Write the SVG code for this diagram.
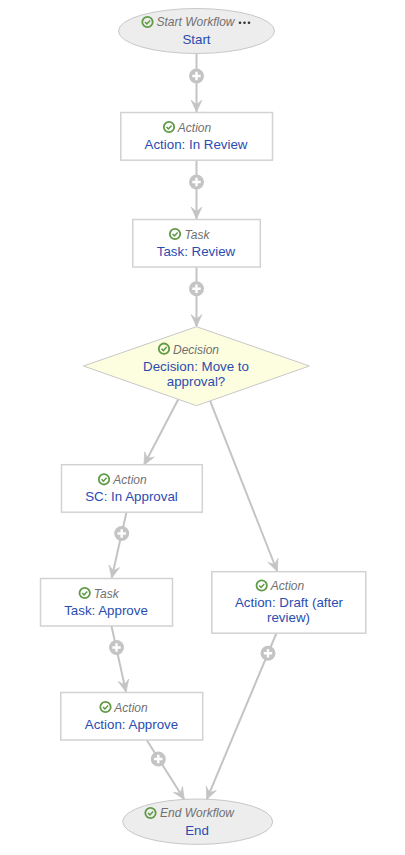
<svg xmlns="http://www.w3.org/2000/svg" xmlns:xlink="http://www.w3.org/1999/xlink" width="405" height="855" viewBox="0 0 405 855">
<style>
text{font-family:"Liberation Sans",Arial,sans-serif;text-anchor:middle}
.t{font-size:12px;font-style:italic;fill:#707070}
.l{font-size:13.33px;fill:#2a4cb0}
.box{fill:#fff;stroke:#d2d2d2;stroke-width:1.5}
.ell{fill:#ededed;stroke:#c8c8c8;stroke-width:1}
.dia{fill:#fdfde0;stroke:#c8c8c8;stroke-width:1}
.c{fill:none;stroke:#c4c4c4;stroke-width:2}
</style>
<defs>
<marker id="a" markerUnits="userSpaceOnUse" markerWidth="14" markerHeight="14" refX="13" refY="7" orient="auto" viewBox="0 0 14 14"><path d="M1 1.500L13 7L1 12.500L5.500 7Z" fill="#c4c4c4" stroke="#c4c4c4" stroke-width=".6"/></marker>
<g id="chk"><circle r="5.200" fill="none" stroke="#5f9a45" stroke-width="1.800"/><path d="M-2.500 0L-.6 1.900L2.600 -1.600" fill="none" stroke="#5f9a45" stroke-width="1.500"/></g>
<g id="plus"><circle r="7.500" fill="#c4c4c4"/><path d="M-4.200 0H4.200M0 -4.200V4.200" stroke="#fff" stroke-width="2.400"/></g>
</defs>
<g id="connectors">
<path class="c" marker-end="url(#a)" d="M196.500 53V112"/>
<path class="c" marker-end="url(#a)" d="M196.500 160V219"/>
<path class="c" marker-end="url(#a)" d="M196.500 267V326.500"/>
<path class="c" marker-end="url(#a)" d="M178.300 399.300L144 465"/>
<path class="c" marker-end="url(#a)" d="M210 400.700L277.300 571.500"/>
<path class="c" marker-end="url(#a)" d="M126.500 512L111.700 578"/>
<path class="c" marker-end="url(#a)" d="M111.500 626L126 692"/>
<path class="c" marker-end="url(#a)" d="M146.700 740L184.300 799.500"/>
<path class="c" marker-end="url(#a)" d="M276.500 633L206.700 799.500"/>
<use xlink:href="#plus" href="#plus" x="196.500" y="76"/>
<use xlink:href="#plus" href="#plus" x="196.500" y="182"/>
<use xlink:href="#plus" href="#plus" x="196.500" y="288.700"/>
<use xlink:href="#plus" href="#plus" x="121.700" y="533.500"/>
<use xlink:href="#plus" href="#plus" x="116.500" y="647.500"/>
<use xlink:href="#plus" href="#plus" x="158.300" y="759"/>
<use xlink:href="#plus" href="#plus" x="268" y="653.300"/>
</g>
<g id="start"><ellipse class="ell" cx="196.500" cy="31" rx="78" ry="22.500"/><use xlink:href="#chk" href="#chk" x="147.500" y="22"/><text class="t" x="195.500" y="26">Start Workflow</text><text class="l" x="196.500" y="44">Start</text><circle cx="240" cy="22.700" r="1.300" fill="#333"/><circle cx="244.500" cy="22.700" r="1.300" fill="#333"/><circle cx="249" cy="22.700" r="1.300" fill="#333"/></g>
<g id="action-review"><rect class="box" x="120.800" y="112.500" width="151.700" height="47.700"/><use xlink:href="#chk" href="#chk" x="169" y="127"/><text class="t" x="194.500" y="132">Action</text><text class="l" x="196" y="149">Action: In Review</text></g>
<g id="task-review"><rect class="box" x="132.800" y="219.500" width="127.500" height="47.500"/><use xlink:href="#chk" href="#chk" x="175" y="234"/><text class="t" x="197" y="239">Task</text><text class="l" x="196" y="256">Task: Review</text></g>
<g id="decision"><polygon class="dia" points="196.500,326.700 309.300,366 196.500,405.700 83.500,366"/><use xlink:href="#chk" href="#chk" x="164" y="348.700"/><text class="t" x="196" y="354">Decision</text><text class="l" x="196" y="371">Decision: Move to</text><text class="l" x="196" y="386">approval?</text></g>
<g id="sc-approval"><rect class="box" x="61.500" y="464.700" width="140.800" height="47.500"/><use xlink:href="#chk" href="#chk" x="104" y="479.300"/><text class="t" x="130" y="484">Action</text><text class="l" x="131.500" y="501">SC: In Approval</text></g>
<g id="task-approve"><rect class="box" x="40.500" y="578.500" width="132" height="47.500"/><use xlink:href="#chk" href="#chk" x="84.700" y="593"/><text class="t" x="106.300" y="598">Task</text><text class="l" x="106" y="615">Task: Approve</text></g>
<g id="action-approve"><rect class="box" x="60.800" y="692.500" width="141.900" height="47.500"/><use xlink:href="#chk" href="#chk" x="105.500" y="707"/><text class="t" x="131" y="712">Action</text><text class="l" x="131.500" y="729">Action: Approve</text></g>
<g id="action-draft"><rect class="box" x="211.800" y="571.700" width="154" height="61.500"/><use xlink:href="#chk" href="#chk" x="261.700" y="585.500"/><text class="t" x="287.500" y="590">Action</text><text class="l" x="289" y="607">Action: Draft (after</text><text class="l" x="288.500" y="622">review)</text></g>
<g id="end"><ellipse class="ell" cx="197.700" cy="821.700" rx="75" ry="22.700"/><use xlink:href="#chk" href="#chk" x="150.500" y="813"/><text class="t" x="197" y="817">End Workflow</text><text class="l" x="197" y="834.500">End</text></g>
</svg>
